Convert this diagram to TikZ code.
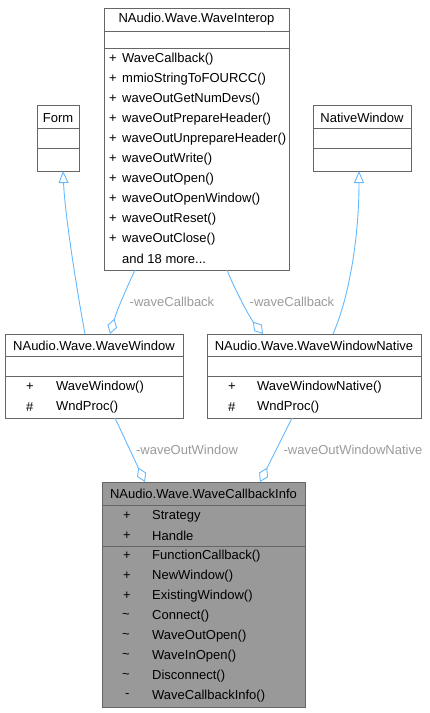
\documentclass[tikz,border=0pt]{standalone}
\usepackage{fontspec}
\setmainfont{Liberation Sans}
\usetikzlibrary{arrows.meta}
\definecolor{edgeblue}{HTML}{63B8FF}
\definecolor{boxline}{HTML}{666666}
\definecolor{lblgrey}{HTML}{9A9A9A}
\definecolor{focusfill}{HTML}{999999}
\begin{document}
\begin{tikzpicture}[x=1pt,y=-1pt,
  font=\fontsize{13}{15}\selectfont,
  box/.style={draw=boxline, line width=0.9pt, fill=white},
  focus/.style={draw=boxline, line width=0.9pt, fill=focusfill},
  sep/.style={draw=boxline, line width=0.9pt},
  ttl/.style={anchor=center, inner sep=0pt, text=black},
  row/.style={anchor=west, inner sep=0pt, text=black},
  lbl/.style={anchor=center, inner sep=0pt, text=lblgrey},
  inherit/.style={draw=edgeblue, line width=0.9pt, -{Triangle[open,length=12pt,width=10pt,fill=white]}},
  assoc/.style={draw=edgeblue, line width=0.9pt, {Diamond[open,length=16pt,width=10pt,fill=white]}-}
]
\useasboundingbox (0,0) rectangle (430,713);

% ---------- NAudio.Wave.WaveInterop ----------
\path[box] (104,8) rectangle (289,270);
\node[ttl] (intT) at (196.5,19) {NAudio.Wave.WaveInterop};
\draw[sep] (104,31) -- (289,31);
\draw[sep] (104,48) -- (289,48);
\foreach \n/\y/\t in {1/59/WaveCallback(), 2/79/mmioStringToFOURCC(), 3/99/waveOutGetNumDevs(),
  4/119/waveOutPrepareHeader(), 5/139/waveOutUnprepareHeader(), 6/159/waveOutWrite(),
  7/179/waveOutOpen(), 8/199/waveOutOpenWindow(), 9/219/waveOutReset(), 10/239/waveOutClose()}{
  \node[row] (ip\n) at (109,\y) {+};
  \node[row] (in\n) at (122,\y) {\t};
}
\node[row] (i11) at (122,259) {and 18 more...};

% ---------- Form ----------
\path[box] (37,105) rectangle (79,171);
\node[ttl] (formT) at (58,118) {Form};
\draw[sep] (37,128) -- (79,128);
\draw[sep] (37,148) -- (79,148);

% ---------- NativeWindow ----------
\path[box] (313,105) rectangle (411,171);
\node[ttl] (natT) at (362,118) {NativeWindow};
\draw[sep] (313,128) -- (411,128);
\draw[sep] (313,148) -- (411,148);

% ---------- NAudio.Wave.WaveWindow ----------
\path[box] (5,334) rectangle (183,418);
\node[ttl] (wwT) at (94,346) {NAudio.Wave.WaveWindow};
\draw[sep] (5,356) -- (183,356);
\draw[sep] (5,376) -- (183,376);
\node[row] (ww1a) at (26,387) {+};
\node[row] (ww1b) at (56,387) {WaveWindow()};
\node[row] (ww2a) at (26,407) {\#};
\node[row] (ww2b) at (56,407) {WndProc()};

% ---------- NAudio.Wave.WaveWindowNative ----------
\path[box] (207,334) rectangle (421,418);
\node[ttl] (wnT) at (314,346) {NAudio.Wave.WaveWindowNative};
\draw[sep] (207,356) -- (421,356);
\draw[sep] (207,376) -- (421,376);
\node[row] (wn1a) at (228,387) {+};
\node[row] (wn1b) at (257,387) {WaveWindowNative()};
\node[row] (wn2a) at (228,407) {\#};
\node[row] (wn2b) at (257,407) {WndProc()};

% ---------- NAudio.Wave.WaveCallbackInfo ----------
\path[focus] (102,482) rectangle (305,707);
\node[ttl] (cbT) at (203.5,494) {NAudio.Wave.WaveCallbackInfo};
\draw[sep] (102,505) -- (305,505);
\draw[sep] (102,546) -- (305,546);
\node[row] (c1a) at (123,516) {+};   \node[row] (c1b) at (152,516) {Strategy};
\node[row] (c2a) at (123,536) {+};   \node[row] (c2b) at (152,536) {Handle};
\node[row] (c3a) at (123,556) {+};   \node[row] (c3b) at (152,556) {FunctionCallback()};
\node[row] (c4a) at (123,576) {+};   \node[row] (c4b) at (152,576) {NewWindow()};
\node[row] (c5a) at (123,596) {+};   \node[row] (c5b) at (152,596) {ExistingWindow()};
\node[row] (c6a) at (122,616) {\raisebox{-1.5pt}{\textasciitilde}};  \node[row] (c6b) at (152,616) {Connect()};
\node[row] (c7a) at (122,636) {\raisebox{-1.5pt}{\textasciitilde}};  \node[row] (c7b) at (152,636) {WaveOutOpen()};
\node[row] (c8a) at (122,656) {\raisebox{-1.5pt}{\textasciitilde}};  \node[row] (c8b) at (152,656) {WaveInOpen()};
\node[row] (c9a) at (122,676) {\raisebox{-1.5pt}{\textasciitilde}};  \node[row] (c9b) at (152,676) {Disconnect()};
\node[row] (c10a) at (125,696) {-};  \node[row] (c10b) at (152,696) {WaveCallbackInfo()};

% ---------- connector end points ----------
\coordinate (formB) at (63,171);
\coordinate (natB) at (359,171);
\coordinate (intBL) at (135,270);
\coordinate (intBR) at (227,270);
\coordinate (wwTop1) at (85,334);
\coordinate (wwTop2) at (110,334);
\coordinate (wnTop1) at (263,334);
\coordinate (wnTop2) at (333,334);
\coordinate (wwBot) at (115,418);
\coordinate (wnBot) at (292,418);
\coordinate (cbTop1) at (145,482);
\coordinate (cbTop2) at (260,482);

% ---------- connectors ----------
\draw[inherit] (wwTop1) .. controls (76,285) and (65,215) .. (formB);
\draw[inherit] (wnTop2) .. controls (350,295) and (359,235) .. (natB);
\draw[assoc] (wwTop2) .. controls (117,310) and (128,285) .. (intBL);
\draw[assoc] (wnTop1) .. controls (250,318) and (235,290) .. (intBR);
\draw[assoc] (cbTop1) -- (wwBot);
\draw[assoc] (cbTop2) -- (wnBot);

% ---------- labels ----------
\node[lbl] (l1) at (172,302) {-waveCallback};
\node[lbl] (l2) at (292,302) {-waveCallback};
\node[lbl] (l3) at (187,450) {-waveOutWindow};
\node[lbl] (l4) at (353,450) {-waveOutWindowNative};
\end{tikzpicture}
\end{document}
